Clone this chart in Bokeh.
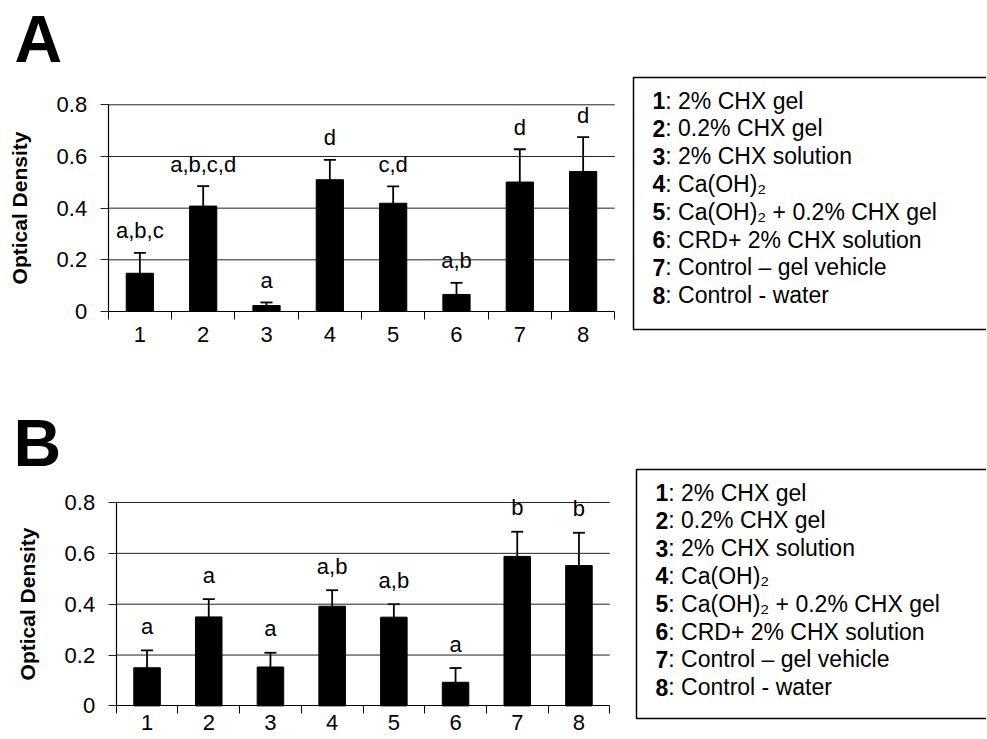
from bokeh.plotting import figure
from bokeh.models import (Range1d, FixedTicker, Whisker, TeeHead, ColumnDataSource,
                          LinearAxis)
from bokeh.layouts import column
from bokeh.embed import file_html
from bokeh.resources import INLINE
from bokeh.core.properties import value

# ---------------- data ----------------
groups = [1, 2, 3, 4, 5, 6, 7, 8]
group_labels = ["1", "2", "3", "4", "5", "6", "7", "8"]

a_means = [0.148, 0.408, 0.023, 0.510, 0.419, 0.066, 0.501, 0.542]
a_sd = [0.079, 0.077, 0.012, 0.077, 0.065, 0.045, 0.127, 0.133]
a_letters = ["a,b,c", "a,b,c,d", "a", "d", "c,d", "a,b", "d", "d"]

b_means = [0.150, 0.350, 0.153, 0.392, 0.349, 0.093, 0.588, 0.552]
b_sd = [0.068, 0.070, 0.056, 0.063, 0.051, 0.056, 0.097, 0.129]
b_letters = ["a", "a", "a", "a,b", "a,b", "a", "b", "b"]

y_ticks = [0, 0.2, 0.4, 0.6, 0.8]
y_tick_labels = ["0", "0.2", "0.4", "0.6", "0.8"]

legend_numbers = ["1", "2", "3", "4", "5", "6", "7", "8"]
legend_texts = [
    ": 2% CHX gel",
    ": 0.2% CHX gel",
    ": 2% CHX solution",
    ": Ca(OH)\u2082",
    ": Ca(OH)\u2082 + 0.2% CHX gel",
    ": CRD+ 2% CHX solution",
    ": Control \u2013 gel vehicle",
    ": Control - water",
]

FONT = "Liberation Sans"
TICK_FS = 22
LEG_FS = 23
W = 986


def panel(letter, means, sds, letters, H, fl, fr, ft, fb, letter_off, x_standoff,
          title_x, title_mid, box_left, box_top, box_bottom, text_x, line1):
    ux = (fr - fl) / 8.0          # pixels per category
    uy = (fb - ft) / 0.8          # pixels per unit of optical density
    p = figure(width=W, height=H,
               x_range=Range1d(0.5 - fl / ux, 0.5 + (W - fl) / ux),
               y_range=Range1d(-(H - fb) / uy, fb / uy),
               output_backend="svg", toolbar_location=None,
               x_axis_location=None, y_axis_location=None,
               title_location=None, min_border=0)
    p.outline_line_color = None
    p.grid.visible = False
    p.extra_x_ranges = {"px": Range1d(0, W)}
    p.extra_y_ranges = {"px": Range1d(H, 0)}

    # horizontal grid lines over the category span
    gsrc = ColumnDataSource(dict(y=y_ticks[1:]))
    p.segment(x0=0.5, x1=8.5, y0="y", y1="y", source=gsrc,
              line_color="#222222", line_width=1)

    upper = [m + s for m, s in zip(means, sds)]
    src = ColumnDataSource(dict(x=groups, top=means, upper=upper, letters=letters))
    p.vbar(x="x", top="top", bottom=0, width=0.43, source=src,
           fill_color="black", line_color="black")
    w = Whisker(base="x", lower="top", upper="upper", source=src,
                dimension="height", line_color="black", line_width=1.8,
                upper_head=TeeHead(size=12, line_color="black", line_width=1.8),
                lower_head=None)
    p.add_layout(w)
    p.text(x="x", y="upper", text="letters", source=src, text_align="center",
           text_baseline="middle", y_offset=-letter_off,
           text_font=value(FONT), text_font_size=f"{TICK_FS}px", text_color="black")

    xa = LinearAxis(fixed_location=0, bounds=(0.5, 8.5))
    xa.ticker = FixedTicker(ticks=groups,
                            minor_ticks=[g - 0.5 for g in groups] + [groups[-1] + 0.5])
    xa.major_label_overrides = {g: l for g, l in zip(groups, group_labels)}
    xa.major_tick_line_color = None
    xa.major_tick_out = 0
    xa.major_tick_in = 0
    xa.minor_tick_out = 8
    xa.minor_tick_in = 0
    xa.minor_tick_line_color = "black"
    xa.axis_line_color = "black"
    xa.axis_line_width = 1.2
    xa.major_label_text_font = FONT
    xa.major_label_text_font_size = f"{TICK_FS}px"
    xa.major_label_text_color = "black"
    xa.major_label_standoff = x_standoff
    p.add_layout(xa, "below")

    ya = LinearAxis(fixed_location=0.5, bounds=(0, 0.8))
    ya.ticker = FixedTicker(ticks=y_ticks)
    ya.major_label_overrides = {t: l for t, l in zip(y_ticks, y_tick_labels)}
    ya.major_tick_out = 8
    ya.major_tick_in = 0
    ya.major_tick_line_color = "#222222"
    ya.minor_tick_line_color = None
    ya.axis_line_color = "black"
    ya.axis_line_width = 1.2
    ya.major_label_text_font = FONT
    ya.major_label_text_font_size = f"{TICK_FS}px"
    ya.major_label_text_color = "black"
    ya.major_label_standoff = 13
    ya.axis_label = "Optical Density"
    ya.axis_label_text_font = FONT
    ya.axis_label_text_font_style = "bold"
    ya.axis_label_text_font_size = "21px"
    ya.axis_label_text_color = "black"
    ya.axis_label_standoff = 23
    p.add_layout(ya, "left")

    # panel letter
    p.text(x=[title_x], y=[title_mid], text=[letter], x_range_name="px",
           y_range_name="px", text_font=value(FONT), text_font_style="bold",
           text_font_size="66px", text_baseline="middle", text_color="black")

    # legend box (right side open, runs past the edge)
    p.quad(left=box_left, right=W + 20, top=box_top, bottom=box_bottom,
           x_range_name="px", y_range_name="px",
           fill_color=None, line_color="black", line_width=1.5)
    spacing = 27.8
    ys = [line1 + i * spacing for i in range(len(legend_numbers))]
    lsrc = ColumnDataSource(dict(y=ys, num=legend_numbers, desc=legend_texts))
    p.text(x=text_x, y="y", text="num", source=lsrc, x_range_name="px",
           y_range_name="px", text_font=value(FONT), text_font_style="bold",
           text_font_size=f"{LEG_FS}px", text_baseline="middle", text_color="black")
    p.text(x=text_x, x_offset=0.556 * LEG_FS, y="y", text="desc", source=lsrc,
           x_range_name="px", y_range_name="px", text_font=value(FONT),
           text_font_size=f"{LEG_FS}px", text_baseline="middle", text_color="black")
    return p


pa = panel("A", a_means, a_sd, a_letters, 396, 107.7, 614.3, 104.3, 311, 22, 7,
           14, 38, 633, 77, 329, 652, 100)
pb = panel("B", b_means, b_sd, b_letters, 342, 115.7, 609.3, 106, 309.4, 24, 1,
           13, 46, 636, 73, 322, 655, 96)

layout = column(pa, pb)
open("out.html", "w").write(file_html(layout, INLINE))
